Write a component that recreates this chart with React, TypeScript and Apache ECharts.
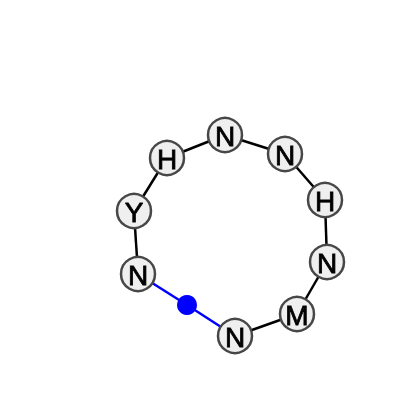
import React, { useEffect, useRef } from 'react';
import * as echarts from 'echarts';

// residue nodes around the ring (pixel positions)
const labels = ['N', 'Y', 'H', 'N', 'N', 'H', 'N', 'M', 'N'];
const xs = [138, 134, 167, 225, 285, 325, 327, 297, 235];
const ys = [274, 211, 158, 135, 154, 200, 262, 314, 336];
// blue marker between the first and last node
const markerPos = [187, 305];
// black bonds (index pairs)
const bonds = [[0, 1], [1, 2], [2, 3], [3, 4], [4, 5], [5, 6], [6, 7], [7, 8]];

const App: React.FC = () => {
  const ref = useRef<HTMLDivElement>(null);

  useEffect(() => {
    if (!ref.current) return;
    const chart = echarts.init(ref.current, undefined, { renderer: 'svg' });

    const nodes: any[] = labels.map((name, i) => ({
      name: 'n' + i,
      value: [xs[i], ys[i]],
    }));
    nodes.push({
      name: 'marker',
      value: markerPos,
      symbolSize: 20,
      itemStyle: { color: '#0000ff', borderWidth: 0 },
      label: { show: false },
    });

    const links: any[] = bonds.map(([a, b]) => ({ source: a, target: b }));
    links.push({ source: 0, target: 9, lineStyle: { color: '#0000ff' } });
    links.push({ source: 9, target: 8, lineStyle: { color: '#0000ff' } });

    chart.setOption({
      animation: false,
      grid: { left: 0, right: 0, top: 0, bottom: 0 },
      xAxis: { type: 'value', min: 0, max: 400, show: false },
      yAxis: { type: 'value', min: 0, max: 410, inverse: true, show: false },
      series: [{
        type: 'graph',
        coordinateSystem: 'cartesian2d',
        layout: 'none',
        symbol: 'circle',
        symbolSize: 34,
        itemStyle: { color: '#efefef', borderColor: '#474747', borderWidth: 2.5 },
        label: {
          show: true,
          position: 'inside',
          formatter: (p: any) => labels[p.dataIndex] ?? '',
          color: '#000',
          fontSize: 28,
          fontWeight: 'normal',
          fontFamily: 'Arial',
          textBorderColor: '#000',
          textBorderWidth: 0.8,
          offset: [0, 1],
        },
        data: nodes,
        links,
        lineStyle: { color: '#000', width: 2.5, opacity: 1 },
        emphasis: { disabled: true },
      }],
    });

    return () => chart.dispose();
  }, []);

  return <div ref={ref} style={{ position: 'fixed', left: 0, top: 0, width: 400, height: 410 }} />;
};

export default App;
